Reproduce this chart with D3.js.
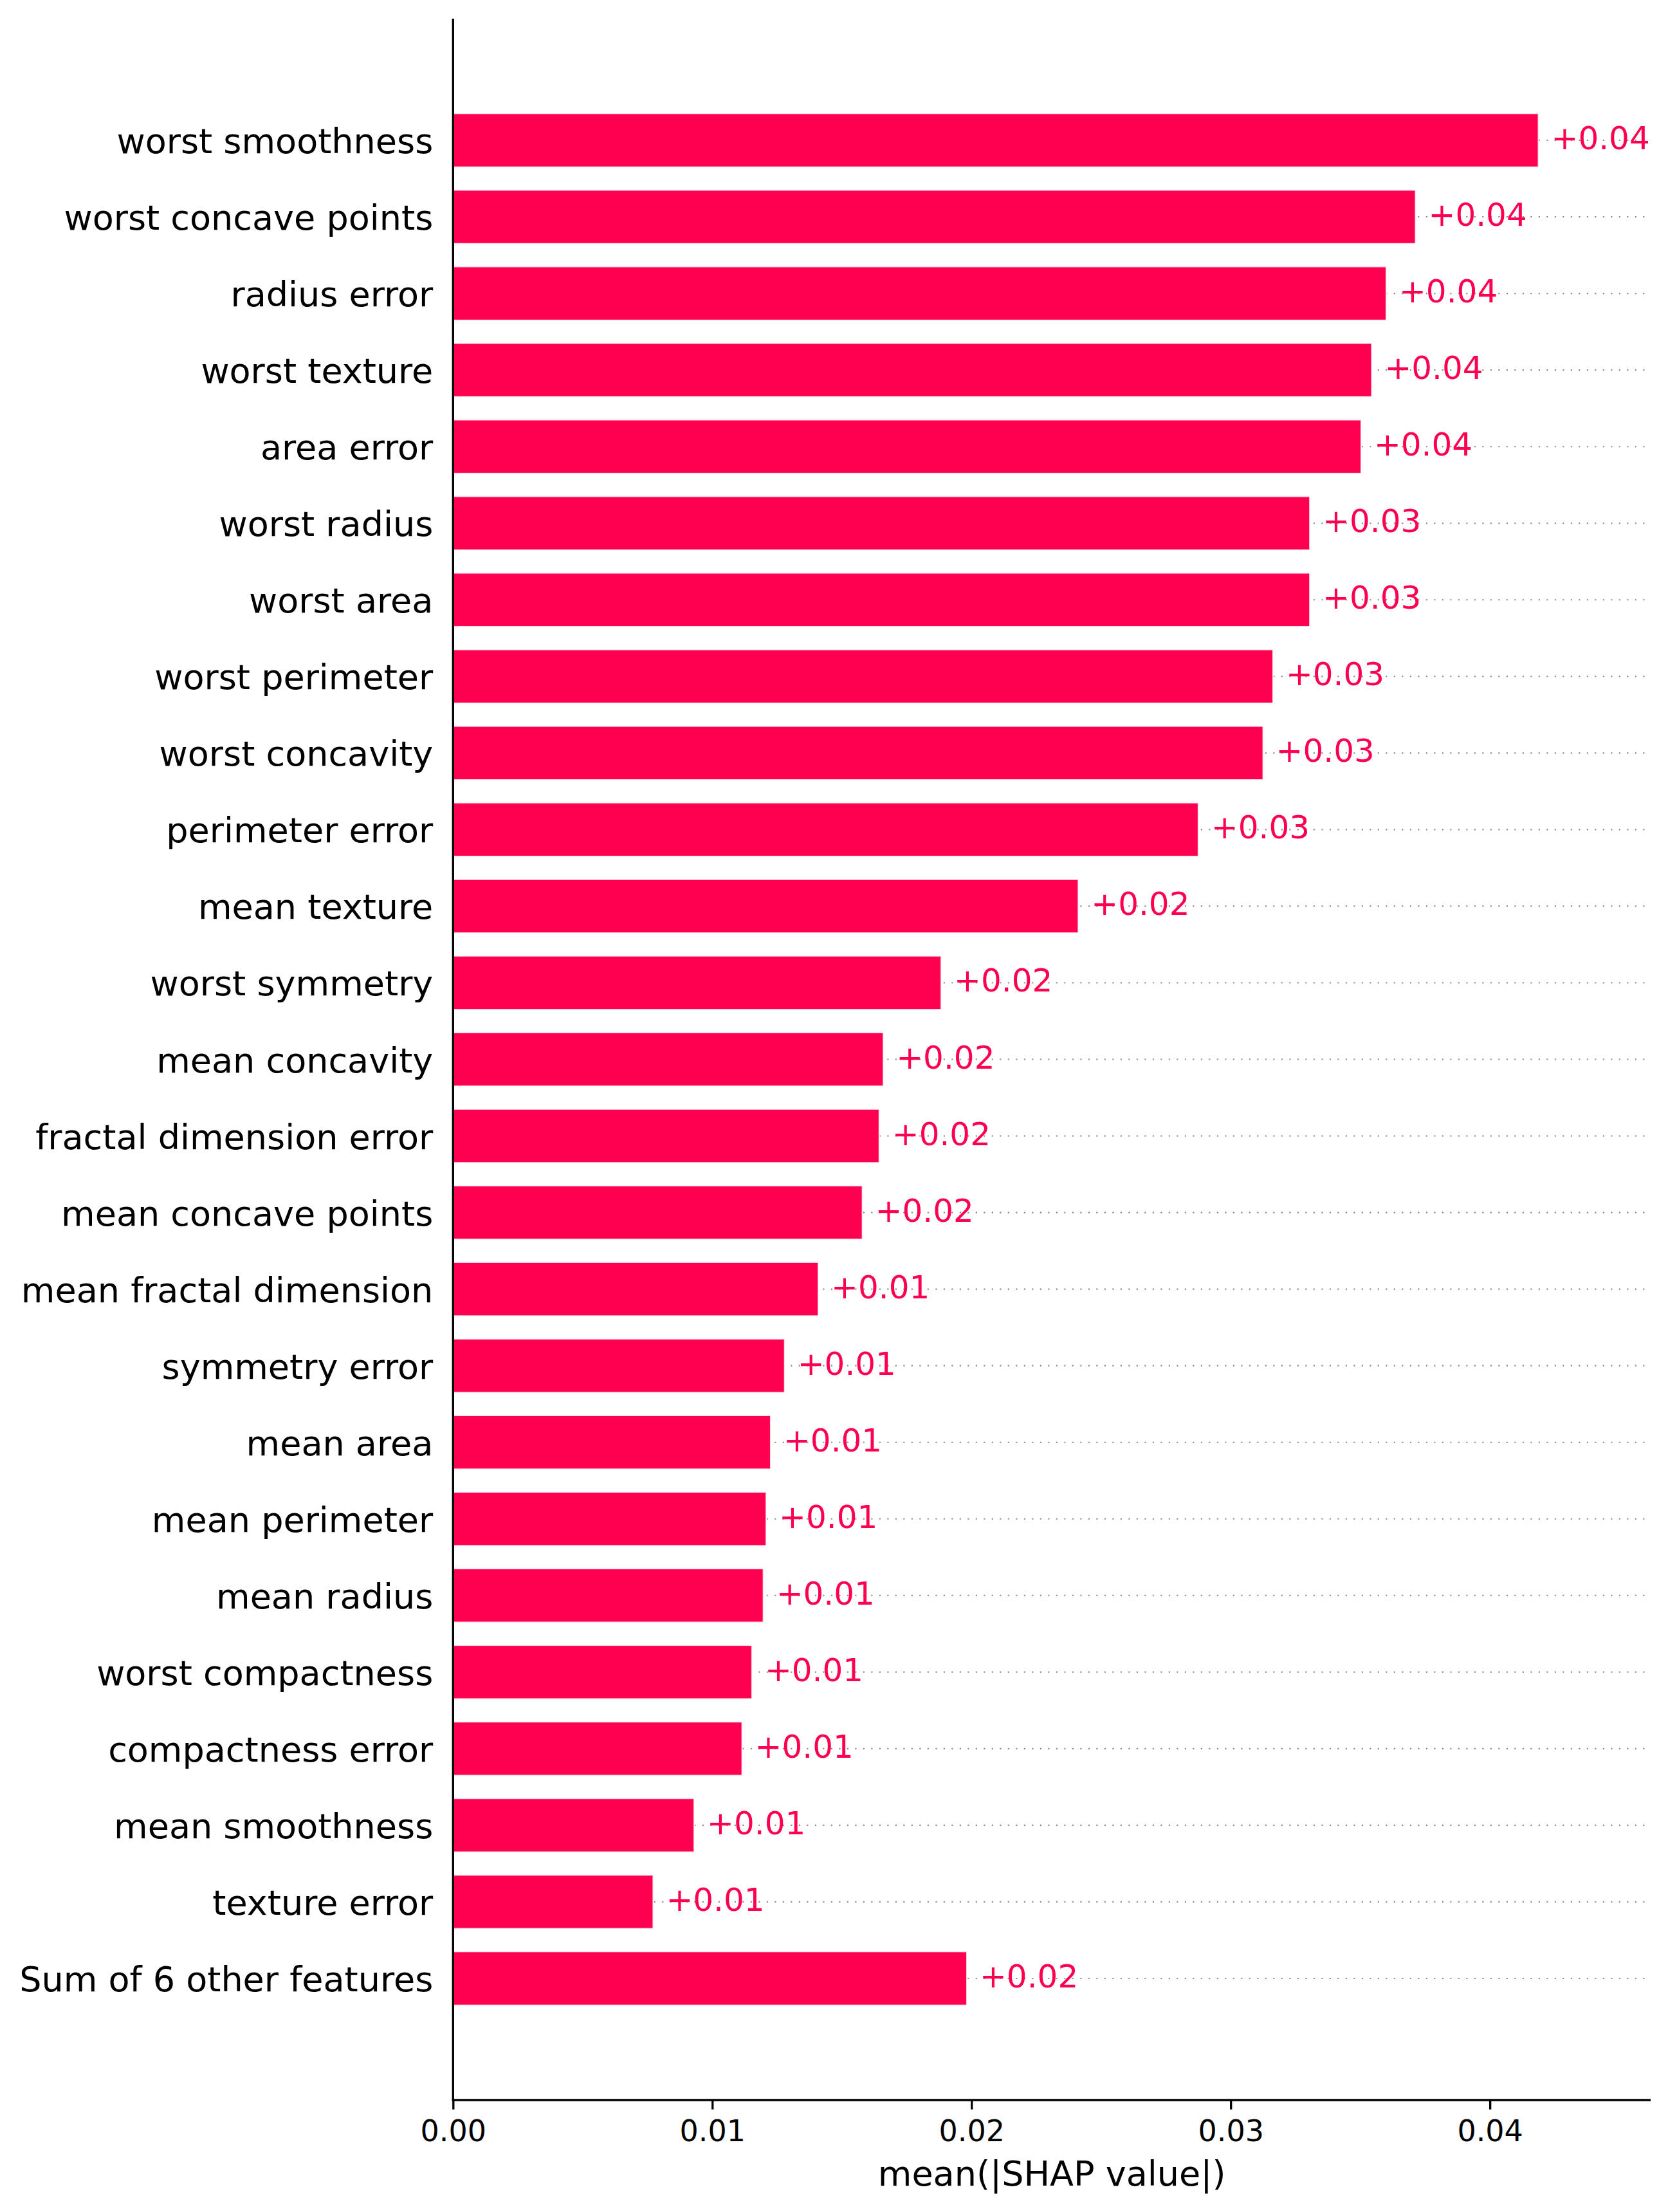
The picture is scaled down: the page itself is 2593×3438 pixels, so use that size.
<!DOCTYPE html>
<html>
<head>
<meta charset="utf-8">
<script src="https://cdn.jsdelivr.net/npm/d3@7"></script>
<style>
  html, body { margin: 0; padding: 0; background: #ffffff; }
  svg { display: block; }
  text { font-family: "DejaVu Sans", sans-serif; }
</style>
</head>
<body>
<script>
// ---- data ----
const features = [
  "worst smoothness", "worst concave points", "radius error", "worst texture",
  "area error", "worst radius", "worst area", "worst perimeter",
  "worst concavity", "perimeter error", "mean texture", "worst symmetry",
  "mean concavity", "fractal dimension error", "mean concave points",
  "mean fractal dimension", "symmetry error", "mean area", "mean perimeter",
  "mean radius", "worst compactness", "compactness error", "mean smoothness",
  "texture error", "Sum of 6 other features"
];
const meanAbsShap = [
  0.04187, 0.03713, 0.03600, 0.03544,
  0.03503, 0.03305, 0.03305, 0.03163,
  0.03125, 0.02875, 0.02412, 0.01883,
  0.01660, 0.01644, 0.01579,
  0.01409, 0.01279, 0.01225, 0.01208,
  0.01197, 0.01153, 0.01115, 0.00930,
  0.00772, 0.01982
];
const xTickValues = [0.00, 0.01, 0.02, 0.03, 0.04];
const xTickLabels = ["0.00", "0.01", "0.02", "0.03", "0.04"];
const xAxisTitle = "mean(|SHAP value|)";

// ---- layout ----
const W = 2593, H = 3438;
const plotLeft = 704.3, plotRight = 2566, plotTop = 29, plotBottom = 3264;
const red = "#ff0051";
const n = features.length;
const pad = 1.588;

const svg = d3.select("body").append("svg")
  .attr("width", W).attr("height", H)
  .attr("viewBox", `0 0 ${W} ${H}`);
svg.append("rect").attr("width", W).attr("height", H).attr("fill", "#ffffff");

const x = d3.scaleLinear().domain([0, 0.04620]).range([plotLeft, plotRight]);
const y = d3.scaleLinear().domain([-pad, n - 1 + pad]).range([plotTop, plotBottom]);
const rowH = y(1) - y(0);
const barH = 0.7 * rowH;

const rows = features.map((f, i) => ({ f, v: meanAbsShap[i], i }));

// dotted guide lines (behind bars)
svg.append("g").selectAll("line").data(rows).join("line")
  .attr("x1", x(0)).attr("x2", plotRight)
  .attr("y1", d => y(d.i)).attr("y2", d => y(d.i))
  .attr("stroke", "#888888").attr("stroke-width", 2.1)
  .attr("stroke-dasharray", "2.1 10.4");

// bars
svg.append("g").selectAll("rect").data(rows).join("rect")
  .attr("x", x(0))
  .attr("y", d => y(d.i) - barH / 2)
  .attr("width", d => x(d.v) - x(0))
  .attr("height", barH)
  .attr("fill", red)
  .attr("stroke", "rgba(255,255,255,0.8)")
  .attr("stroke-width", 2);

// value labels
const fmt = d3.format("+.2f");
svg.append("g").selectAll("text").data(rows).join("text")
  .attr("x", d => x(d.v) + 20)
  .attr("y", d => y(d.i) + 14)
  .attr("fill", red)
  .attr("font-size", 50)
  .text(d => fmt(d.v));

// feature labels
svg.append("g").selectAll("text").data(rows).join("text")
  .attr("x", plotLeft - 31)
  .attr("y", d => y(d.i) + 20)
  .attr("text-anchor", "end")
  .attr("fill", "#000000")
  .attr("font-size", 54)
  .text(d => d.f);

// left spine
svg.append("line")
  .attr("x1", plotLeft).attr("x2", plotLeft)
  .attr("y1", plotTop).attr("y2", plotBottom)
  .attr("stroke", "#000").attr("stroke-width", 3.3);

// x axis
const xAxis = d3.axisBottom(x)
  .tickValues(xTickValues)
  .tickFormat((d, i) => xTickLabels[i])
  .tickSize(14.6)
  .tickSizeOuter(0);
const gx = svg.append("g").attr("transform", `translate(0,${plotBottom})`).call(xAxis);
gx.select(".domain").attr("stroke", "#000").attr("stroke-width", 3.3)
  .attr("d", `M${plotLeft - 1.65},0H${plotRight}`);
gx.selectAll(".tick line").attr("stroke", "#000").attr("stroke-width", 3.3);
gx.selectAll(".tick text")
  .attr("y", 64).attr("dy", null)
  .attr("font-size", 46)
  .attr("font-family", "DejaVu Sans, sans-serif")
  .attr("fill", "#000");

svg.append("text")
  .attr("x", (plotLeft + plotRight) / 2)
  .attr("y", 3397)
  .attr("text-anchor", "middle")
  .attr("font-size", 54)
  .attr("fill", "#000")
  .text(xAxisTitle);
</script>
</body>
</html>
